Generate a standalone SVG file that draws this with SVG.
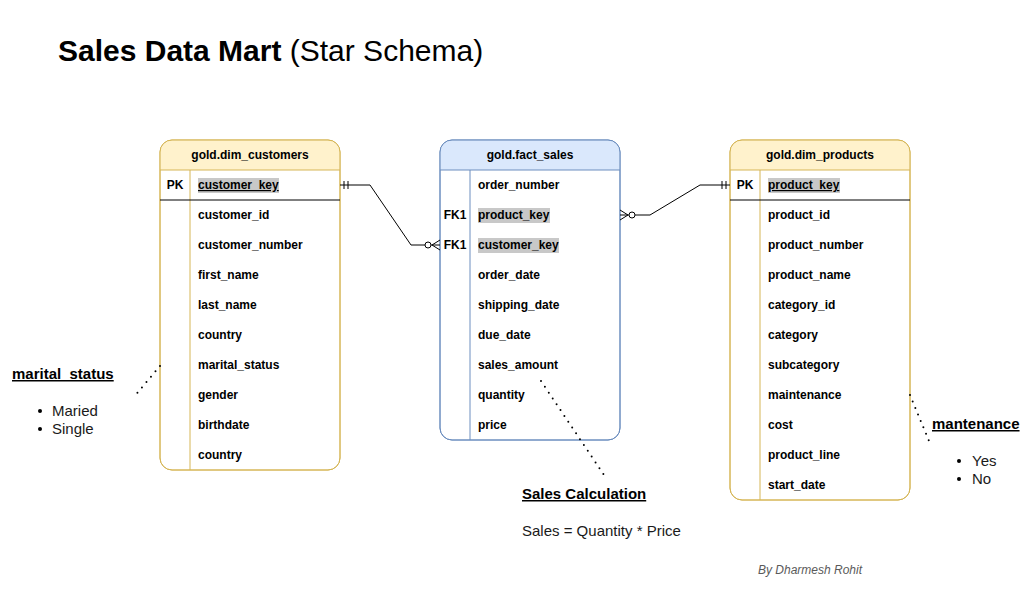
<svg xmlns="http://www.w3.org/2000/svg" width="1030" height="590" viewBox="0 0 1030 590">
<style>
  text { font-family: "Liberation Sans", Arial, sans-serif; fill: #000; }
  .hdr { font-size: 12px; font-weight: bold; text-anchor: middle; }
  .row { font-size: 12px; font-weight: bold; }
  .key { font-size: 12px; font-weight: bold; text-anchor: middle; }
  .ybody { fill: #ffffff; stroke: #d6b656; stroke-width: 1; }
  .yhead { fill: #fff2cc; stroke: none; }
  .yline { stroke: #d6b656; stroke-width: 1; fill: none; }
  .bbody { fill: #ffffff; stroke: #6c8ebf; stroke-width: 1; }
  .bhead { fill: #dae8fc; stroke: none; }
  .bline { stroke: #6c8ebf; stroke-width: 1; fill: none; }
  .pkline { stroke: #000; stroke-width: 1; }
  .hl { fill: #c8c8c8; }
  .conn { stroke: #000; stroke-width: 1; fill: none; }
  .dots { stroke: #000; stroke-width: 2; fill: none; stroke-dasharray: 0 7; stroke-linecap: round; }
  .note-t { font-size: 15px; font-weight: bold; text-decoration: underline; }
  .note { font-size: 15px; fill: #1a1a1a; }
</style>

<g id="title">
  <text x="58" y="61" font-size="30"><tspan font-weight="bold">Sales Data Mart</tspan> (Star Schema)</text>
</g>

<g id="dim_customers">
  <rect class="ybody" x="160" y="140" width="180" height="330" rx="12"/>
  <path class="yhead" d="M160.5,170 V152 A11.5,11.5 0 0 1 172,140.5 H328 A11.5,11.5 0 0 1 339.5,152 V170 Z"/>
  <rect x="160" y="140" width="180" height="330" rx="12" fill="none" stroke="#d6b656"/>
  <line class="yline" x1="160" y1="170" x2="340" y2="170"/>
  <line class="yline" x1="190" y1="170" x2="190" y2="470"/>
  <line class="pkline" x1="160" y1="200" x2="340" y2="200"/>
  <text class="hdr" x="250" y="159">gold.dim_customers</text>
  <text class="key" x="175" y="189">PK</text>
  <rect class="hl" x="198" y="178" width="81" height="15"/>
  <text class="row" x="198" y="189" text-decoration="underline">customer_key</text>
  <text class="row" x="198" y="219">customer_id</text>
  <text class="row" x="198" y="249">customer_number</text>
  <text class="row" x="198" y="279">first_name</text>
  <text class="row" x="198" y="309">last_name</text>
  <text class="row" x="198" y="339">country</text>
  <text class="row" x="198" y="369">marital_status</text>
  <text class="row" x="198" y="399">gender</text>
  <text class="row" x="198" y="429">birthdate</text>
  <text class="row" x="198" y="459">country</text>
</g>

<g id="fact_sales">
  <rect class="bbody" x="440" y="140" width="180" height="300" rx="12"/>
  <path class="bhead" d="M440.5,170 V152 A11.5,11.5 0 0 1 452,140.5 H608 A11.5,11.5 0 0 1 619.5,152 V170 Z"/>
  <rect x="440" y="140" width="180" height="300" rx="12" fill="none" stroke="#6c8ebf"/>
  <line class="bline" x1="440" y1="170" x2="620" y2="170"/>
  <line class="bline" x1="470" y1="170" x2="470" y2="440"/>
  <text class="hdr" x="530" y="159">gold.fact_sales</text>
  <text class="row" x="478" y="189">order_number</text>
  <text class="key" x="455" y="219">FK1</text>
  <rect class="hl" x="478" y="208" width="72" height="15"/>
  <text class="row" x="478" y="219">product_key</text>
  <text class="key" x="455" y="249">FK1</text>
  <rect class="hl" x="478" y="238" width="81" height="15"/>
  <text class="row" x="478" y="249">customer_key</text>
  <text class="row" x="478" y="279">order_date</text>
  <text class="row" x="478" y="309">shipping_date</text>
  <text class="row" x="478" y="339">due_date</text>
  <text class="row" x="478" y="369">sales_amount</text>
  <text class="row" x="478" y="399">quantity</text>
  <text class="row" x="478" y="429">price</text>
</g>

<g id="dim_products">
  <rect class="ybody" x="730" y="140" width="180" height="360" rx="12"/>
  <path class="yhead" d="M730.5,170 V152 A11.5,11.5 0 0 1 742,140.5 H898 A11.5,11.5 0 0 1 909.5,152 V170 Z"/>
  <rect x="730" y="140" width="180" height="360" rx="12" fill="none" stroke="#d6b656"/>
  <line class="yline" x1="730" y1="170" x2="910" y2="170"/>
  <line class="yline" x1="760" y1="170" x2="760" y2="500"/>
  <line class="pkline" x1="730" y1="200" x2="910" y2="200"/>
  <text class="hdr" x="820" y="159">gold.dim_products</text>
  <text class="key" x="745" y="189">PK</text>
  <rect class="hl" x="768" y="178" width="72" height="15"/>
  <text class="row" x="768" y="189" text-decoration="underline">product_key</text>
  <text class="row" x="768" y="219">product_id</text>
  <text class="row" x="768" y="249">product_number</text>
  <text class="row" x="768" y="279">product_name</text>
  <text class="row" x="768" y="309">category_id</text>
  <text class="row" x="768" y="339">category</text>
  <text class="row" x="768" y="369">subcategory</text>
  <text class="row" x="768" y="399">maintenance</text>
  <text class="row" x="768" y="429">cost</text>
  <text class="row" x="768" y="459">product_line</text>
  <text class="row" x="768" y="489">start_date</text>
</g>

<g id="connectors">
  <path class="conn" d="M340,185 H370 L411,245 H425"/>
  <path class="conn" d="M344,181 V189 M348,181 V189"/>
  <circle class="conn" cx="428" cy="245" r="3" fill="#fff"/>
  <path class="conn" d="M431,245 H440 M432,245 L440,240 M432,245 L440,250"/>
  <path class="conn" d="M620,210 L628,215 L620,220 M620,215 H629"/>
  <circle class="conn" cx="632" cy="215" r="3" fill="#fff"/>
  <path class="conn" d="M635,215 H650 L700,185 H730"/>
  <path class="conn" d="M722,181 V189 M726,181 V189"/>
  <path class="dots" d="M160,366 L133,398"/>
  <path class="dots" d="M541,381 L604,475"/>
  <path class="dots" d="M910,395 L929,441"/>
</g>

<g id="note_marital">
  <text class="note-t" x="12" y="379">marital_status</text>
  <circle cx="40" cy="411" r="2" fill="#000"/>
  <text class="note" x="52" y="416">Maried</text>
  <circle cx="40" cy="429" r="2" fill="#000"/>
  <text class="note" x="52" y="434">Single</text>
</g>

<g id="note_sales">
  <text class="note-t" x="522" y="499">Sales Calculation</text>
  <text class="note" x="522" y="536">Sales = Quantity * Price</text>
</g>

<g id="note_maintenance">
  <text class="note-t" x="932" y="429">mantenance</text>
  <circle cx="959" cy="461" r="2" fill="#000"/>
  <text class="note" x="972" y="466">Yes</text>
  <circle cx="959" cy="479" r="2" fill="#000"/>
  <text class="note" x="972" y="484">No</text>
</g>

<g id="credit">
  <text x="758" y="574" font-size="12" font-style="italic" style="fill:#5a5a5a">By Dharmesh Rohit</text>
</g>
</svg>
